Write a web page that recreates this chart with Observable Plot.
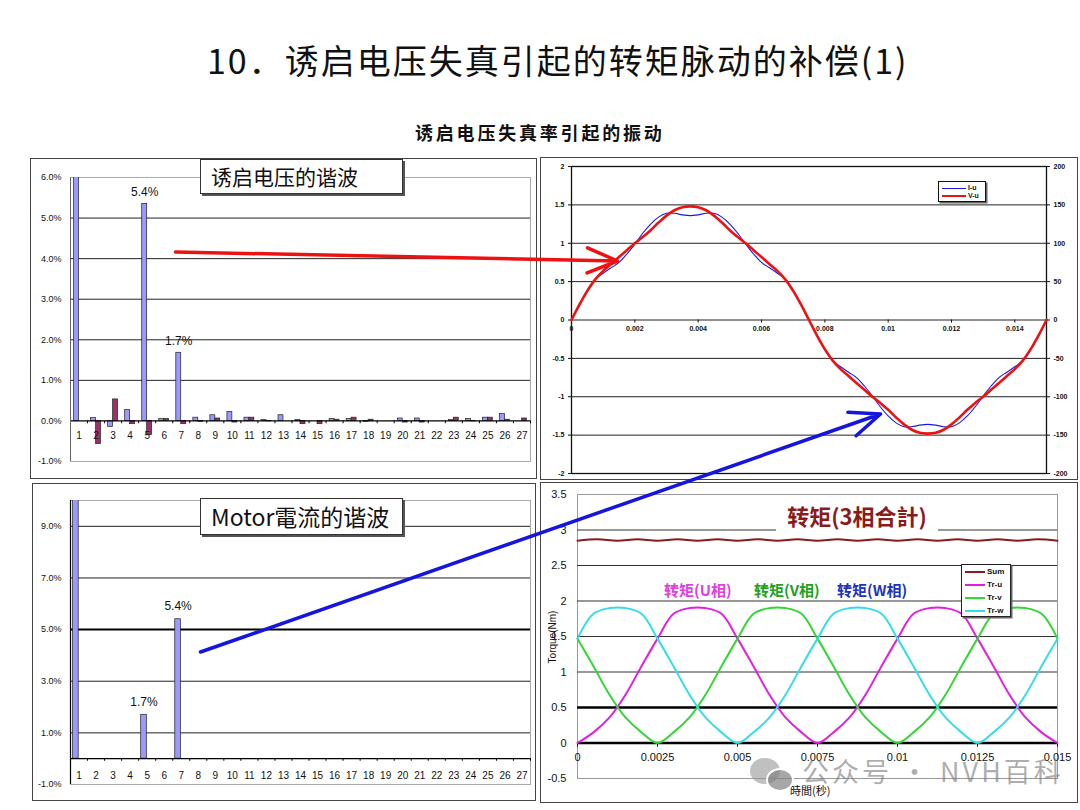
<!DOCTYPE html>
<html><head><meta charset="utf-8">
<script src="https://cdn.jsdelivr.net/npm/d3@7"></script>
<script src="https://cdn.jsdelivr.net/npm/@observablehq/plot@0.6"></script>
<style>
body{margin:0;background:#fff;}
#page{position:relative;width:1080px;height:810px;overflow:hidden;background:#fff;font-family:"Liberation Sans",Arial,sans-serif;}
.panel{position:absolute;box-sizing:border-box;border:1.5px solid #444;}
.cjk{font-family:"Noto Sans CJK SC","Noto Sans",sans-serif;}
.tbox{position:absolute;box-sizing:border-box;background:#fff;border:1px solid #333;box-shadow:2px 2px 0 #555;white-space:nowrap;}
.leg{position:absolute;box-sizing:border-box;background:#fff;border:1.5px solid #111;box-shadow:1.5px 1.5px 0 #666;}
.row{position:absolute;left:3px;height:10px;white-space:nowrap;font-size:8px;font-weight:bold;color:#111;line-height:10px;}
.sw{display:inline-block;vertical-align:middle;margin-right:2px;}
</style></head><body><div id="page"></div>
<script>
// ---------- data ----------
const harmonics = [1,2,3,4,5,6,7,8,9,10,11,12,13,14,15,16,17,18,19,20,21,22,23,24,25,26,27];
const voltHarmA = [100,0.07,-0.15,0.27,5.35,0.05,1.68,0.08,0.14,0.22,0.08,0.02,0.14,0.02,0,0.05,0.05,-0.02,0,0.06,0.06,0,0.02,0.05,0.08,0.17,0];
const voltHarmB = [0,-0.57,0.53,-0.08,-0.35,0.05,-0.08,-0.02,0.06,-0.04,0.08,-0.01,0,-0.08,-0.08,0.03,0.08,0.03,0,-0.04,-0.04,0,0.08,-0.01,0.08,0.03,0.06];
const voltLabels = [{h:5, v:5.35, text:"5.4%"}, {h:7, v:1.68, text:"1.7%"}];
const voltTicks = [-1,0,1,2,3,4,5,6];
const voltGrid = [1,2,3,4,5];

const currHarm = [100,0,0,0,1.7,0,5.4,0,0,0,0,0,0,0,0,0,0,0,0,0,0,0,0,0,0,0,0];
const currLabels = [{h:5, v:1.7, text:"1.7%"}, {h:7, v:5.4, text:"5.4%"}];
const currTicks = [-1,1,3,5,7,9];
const currGrid = [1,3,7,9];
const currGridBold = [5];

const waveT = [0,0.00025,0.0005,0.00075,0.001,0.00125,0.0015,0.00175,0.002,0.00225,0.0025,0.00275,0.003,0.00325,0.0035,0.00375,0.004,0.00425,0.0045,0.00475,0.005,0.00525,0.0055,0.00575,0.006,0.00625,0.0065,0.00675,0.007,0.00725,0.0075,0.00775,0.008,0.00825,0.0085,0.00875,0.009,0.00925,0.0095,0.00975,0.01,0.01025,0.0105,0.01075,0.011,0.01125,0.0115,0.01175,0.012,0.01225,0.0125,0.01275,0.013,0.01325,0.0135,0.01375,0.014,0.01425,0.0145,0.01475,0.015];
const currentU = [0,0.2,0.39,0.53,0.61,0.68,0.75,0.86,0.99,1.13,1.25,1.34,1.39,1.39,1.37,1.36,1.37,1.39,1.39,1.34,1.25,1.13,0.99,0.86,0.75,0.68,0.61,0.53,0.39,0.2,0,
  -0.2,-0.39,-0.53,-0.61,-0.68,-0.75,-0.86,-0.99,-1.13,-1.25,-1.34,-1.39,-1.39,-1.37,-1.36,-1.37,-1.39,-1.39,-1.34,-1.25,-1.13,-0.99,-0.86,-0.75,-0.68,-0.61,-0.53,-0.39,-0.2,0];
const voltageU = [0,20,38,53,64,73,82,91,100,108,117,127,136,143,147,148,147,143,136,127,117,108,100,91,82,73,64,53,38,20,0,
  -20,-38,-53,-64,-73,-82,-91,-100,-108,-117,-127,-136,-143,-147,-148,-147,-143,-136,-127,-117,-108,-100,-91,-82,-73,-64,-53,-38,-20,0];
const waveTicksY = [-2,-1.5,-1,-0.5,0,0.5,1,1.5,2];
const waveGrid = [-1.5,-1,-0.5,0,0.5,1,1.5];
const waveTicksX = [0,0.002,0.004,0.006,0.008,0.01,0.012,0.014];

const torqueT = [0,0.0005,0.001,0.0015,0.002,0.0025,0.003,0.0035,0.004,0.0045,0.005,0.0055,0.006,0.0065,0.007,0.0075,0.008,0.0085,0.009,0.0095,0.01,0.0105,0.011,0.0115,0.012,0.0125,0.013,0.0135,0.014,0.0145,0.015];
const trU = [0,0.15,0.36,0.68,1.08,1.47,1.82,1.9,1.9,1.82,1.47,1.08,0.68,0.36,0.15,0,0.15,0.36,0.68,1.08,1.47,1.82,1.9,1.9,1.82,1.47,1.08,0.68,0.36,0.15,0];
const trV = [1.47,1.08,0.68,0.36,0.15,0,0.15,0.36,0.68,1.08,1.47,1.82,1.9,1.9,1.82,1.47,1.08,0.68,0.36,0.15,0,0.15,0.36,0.68,1.08,1.47,1.82,1.9,1.9,1.82,1.47];
const trW = [1.47,1.82,1.9,1.9,1.82,1.47,1.08,0.68,0.36,0.15,0,0.15,0.36,0.68,1.08,1.47,1.82,1.9,1.9,1.82,1.47,1.08,0.68,0.36,0.15,0,0.15,0.36,0.68,1.08,1.47];
const sumT = [0,0.000625,0.00125,0.001875,0.0025,0.003125,0.00375,0.004375,0.005,0.005625,0.00625,0.006875,0.0075,0.008125,0.00875,0.009375,0.01,0.010625,0.01125,0.011875,0.0125,0.013125,0.01375,0.014375,0.015];
const sumV = [2.85,2.87,2.85,2.87,2.85,2.87,2.85,2.87,2.85,2.87,2.85,2.87,2.85,2.87,2.85,2.87,2.85,2.87,2.85,2.87,2.85,2.87,2.85,2.87,2.85];
const torqueTicksY = [-0.5,0,0.5,1,1.5,2,2.5,3,3.5];
const torqueGrid = [1,1.5,2,2.5,3];
const torqueGridBold = [0,0.5];
const torqueTicksX = [0,0.0025,0.005,0.0075,0.01,0.0125,0.015];

const arrows = [
  {x1:175, y1:251.5, x2:617, y2:260.5, color:"#ee1111"},
  {x1:200, y1:651.5, x2:880, y2:413.5, color:"#1515e0"}
];

// ---------- helpers ----------
const page = document.getElementById("page");
function put(el, left, top, z){ el.style.position="absolute"; el.style.left=left+"px"; el.style.top=top+"px"; if(z) el.style.zIndex=z; page.appendChild(el); return el; }
function html(s, left, top, z){ const d=document.createElement("div"); d.innerHTML=s; const e=d.firstElementChild; return put(e,left,top,z); }
const FONT = "Liberation Sans, Arial, sans-serif";

// ---------- titles ----------
html(`<div class="cjk" style="font-size:34px;letter-spacing:2px;color:#111;white-space:nowrap;line-height:40px;">10．诱启电压失真引起的转矩脉动的补偿(1)</div>`, 207, 40);
html(`<div class="cjk" style="font-size:18px;font-weight:bold;letter-spacing:2.8px;color:#111;white-space:nowrap;line-height:22px;">诱启电压失真率引起的振动</div>`, 415, 121);

// ---------- panel 1: voltage harmonics ----------
const voltBars = harmonics.map((h,i)=>({h, a:voltHarmA[i], b:voltHarmB[i]}));
const p1 = Plot.plot({
  width:507, height:321, marginLeft:40, marginRight:7, marginTop:19, marginBottom:18,
  style:{background:"transparent", fontFamily:FONT, fontSize:"9px", color:"#111"},
  x:{domain:[0.5,27.5], axis:null},
  y:{domain:[-1,6], ticks:voltTicks, tickFormat:d=>d.toFixed(1)+"%", tickSize:0, tickPadding:9, label:null},
  marks:[
    Plot.frame({stroke:"#aaa"}),
    Plot.ruleY(voltGrid, {stroke:"#222", strokeWidth:1}),
    Plot.rect(voltBars, {x1:d=>d.h-0.29, x2:d=>d.h, y1:0, y2:"a", fill:"#9999ff", stroke:"#222", strokeWidth:0.7, clip:true}),
    Plot.rect(voltBars, {x1:d=>d.h, x2:d=>d.h+0.29, y1:0, y2:"b", fill:"#993366", stroke:"#222", strokeWidth:0.7, clip:true}),
    Plot.ruleY([0], {stroke:"#000", strokeWidth:1.2}),
    Plot.ruleX([0.5], {stroke:"#666", strokeWidth:1}),
    Plot.ruleX(harmonics, {x:d=>d+0.5, y1:0, y2:-0.07, stroke:"#000"}),
    Plot.text(harmonics, {x:d=>d, y:0, dy:15, text:d=>String(d), fontSize:10, fill:"#111"}),
    Plot.text(voltLabels, {x:d=>d.h-0.145, y:"v", dy:-12, text:"text", fontSize:12, fill:"#111"})
  ]
});
put(p1, 30, 158, 1);
html(`<div class="panel" style="width:507px;height:321px;"></div>`, 30, 158, 2);
html(`<div class="tbox cjk" style="width:203px;height:35px;font-size:21px;line-height:33px;padding-left:10px;color:#111;">诱启电压的谐波</div>`, 200, 159, 3);

// ---------- panel 3: motor current harmonics ----------
const currBars = harmonics.map((h,i)=>({h, v:currHarm[i]}));
const p3 = Plot.plot({
  width:504, height:318, marginLeft:38, marginRight:6, marginTop:17, marginBottom:17,
  style:{background:"transparent", fontFamily:FONT, fontSize:"9px", color:"#111"},
  x:{domain:[0.5,27.5], axis:null},
  y:{domain:[-1,10], ticks:currTicks, tickFormat:d=>d.toFixed(1)+"%", tickSize:0, tickPadding:9, label:null},
  marks:[
    Plot.frame({stroke:"#aaa"}),
    Plot.ruleY(currGrid, {stroke:"#222", strokeWidth:1}),
    Plot.ruleY(currGridBold, {stroke:"#000", strokeWidth:2}),
    Plot.rect(currBars, {x1:d=>d.h-0.35, x2:d=>d.h-0.02, y1:0, y2:"v", fill:"#9999ff", stroke:"#222", strokeWidth:0.7, clip:true}),
    Plot.ruleY([0], {stroke:"#000", strokeWidth:1.2}),
    Plot.ruleX([0.5], {stroke:"#000", strokeWidth:1.2}),
    Plot.ruleX(harmonics, {x:d=>d+0.5, y1:0, y2:-0.1, stroke:"#000"}),
    Plot.text(harmonics, {x:d=>d, y:0, dy:17, text:d=>String(d), fontSize:10, fill:"#111"}),
    Plot.text(currLabels, {x:d=>d.h-0.185, y:"v", dy:-13, text:"text", fontSize:12, fill:"#111"})
  ]
});
put(p3, 32, 483, 1);
html(`<div class="panel" style="width:504px;height:318px;"></div>`, 32, 483, 2);
html(`<div class="tbox cjk" style="width:203px;height:37px;font-size:23px;line-height:35px;padding-left:10px;color:#111;">Motor電流的谐波</div>`, 200, 498, 3);

// ---------- panel 2: current / voltage waveforms ----------
const wave = waveT.map((t,i)=>({t, i:currentU[i], v:voltageU[i]}));
const p2 = Plot.plot({
  width:538, height:323, marginLeft:31, marginRight:32, marginTop:9, marginBottom:7,
  style:{background:"transparent", fontFamily:FONT, fontSize:"7px", color:"#111"},
  x:{domain:[0,0.015], axis:null},
  y:{domain:[-2,2], axis:null, label:null},
  marks:[
    Plot.ruleY(waveGrid, {stroke:"#222", strokeWidth:1}),
    Plot.frame({stroke:"#111", strokeWidth:1.3}),
    Plot.axisY(waveTicksY, {anchor:"left", label:null, tickSize:3, tickPadding:4, fontWeight:"bold", tickFormat:d=>String(d)}),
    Plot.axisY(waveTicksY, {anchor:"right", label:null, tickSize:3, tickPadding:4, fontWeight:"bold", tickFormat:d=>String(Math.round(d*100))}),
    Plot.ruleX(waveTicksX, {y1:0, y2:-0.04, stroke:"#111"}),
    Plot.text(waveTicksX, {x:d=>d, y:0, dy:9, text:d=>String(d), fontSize:7, fontWeight:"bold", fill:"#111"}),
    Plot.line(wave, {x:"t", y:"i", stroke:"#1a1adf", strokeWidth:1.1, curve:"catmull-rom"}),
    Plot.line(wave, {x:"t", y:d=>d.v/100, stroke:"#ee1111", strokeWidth:2.6, curve:"catmull-rom"})
  ]
});
put(p2, 540, 157, 1);
html(`<div class="panel" style="width:538px;height:323px;"></div>`, 540, 157, 2);
html(`<div class="leg" style="width:48px;height:21px;">
  <div class="row" style="top:1px;font-size:7px;"><span class="sw" style="width:24px;height:0;border-top:1px solid #1a1adf;"></span>I-u</div>
  <div class="row" style="top:9px;font-size:7px;"><span class="sw" style="width:24px;height:0;border-top:2.5px solid #ee1111;"></span>V-u</div>
</div>`, 938, 181, 3);

// ---------- panel 4: torque ----------
const torque = torqueT.map((t,i)=>({t, u:trU[i], v:trV[i], w:trW[i]}));
const sum = sumT.map((t,i)=>({t, s:sumV[i]}));
const p4 = Plot.plot({
  width:538, height:321, marginLeft:37, marginRight:21, marginTop:12, marginBottom:25,
  style:{background:"transparent", fontFamily:FONT, fontSize:"11px", color:"#111"},
  x:{domain:[0,0.015], axis:null},
  y:{domain:[-0.5,3.5], ticks:torqueTicksY, tickFormat:d=>String(d), tickSize:0, tickPadding:11, label:null},
  marks:[
    Plot.frame({stroke:"#999"}),
    Plot.ruleY(torqueGrid, {stroke:"#333", strokeWidth:1}),
    Plot.ruleY(torqueGridBold, {stroke:"#000", strokeWidth:2.5}),
    Plot.ruleX(torqueTicksX, {y1:0, y2:-0.06, stroke:"#111"}),
    Plot.text(torqueTicksX, {x:d=>d, y:0, dy:14, text:d=>String(d), fontSize:11, fill:"#111"}),
    Plot.line(sum, {x:"t", y:"s", stroke:"#8b1a1a", strokeWidth:2, curve:"catmull-rom"}),
    Plot.line(torque, {x:"t", y:"u", stroke:"#e020e0", strokeWidth:2, curve:"catmull-rom"}),
    Plot.line(torque, {x:"t", y:"v", stroke:"#33d633", strokeWidth:2, curve:"catmull-rom"}),
    Plot.line(torque, {x:"t", y:"w", stroke:"#33dde8", strokeWidth:2, curve:"catmull-rom"})
  ]
});
put(p4, 540, 482, 1);
html(`<div class="panel" style="width:538px;height:321px;"></div>`, 540, 482, 2);
html(`<div class="cjk" style="width:162px;height:36px;background:#fff;text-align:center;font-size:22px;font-weight:bold;color:#8b1a1a;line-height:36px;white-space:nowrap;">转矩(3相合計)</div>`, 776, 497, 3);
html(`<div class="cjk" style="font-size:15px;font-weight:bold;color:#e040e0;white-space:nowrap;line-height:20px;">转矩(U相)</div>`, 664, 580, 3);
html(`<div class="cjk" style="font-size:15px;font-weight:bold;color:#22a022;white-space:nowrap;line-height:20px;">转矩(V相)</div>`, 754, 580, 3);
html(`<div class="cjk" style="font-size:15px;font-weight:bold;color:#2233bb;white-space:nowrap;line-height:20px;">转矩(W相)</div>`, 837, 580, 3);
html(`<div class="leg" style="width:50px;height:53px;border-color:#222;">
  <div class="row" style="top:2px;"><span class="sw" style="width:20px;height:0;border-top:2px solid #8b1a1a;"></span>Sum</div>
  <div class="row" style="top:15px;"><span class="sw" style="width:20px;height:0;border-top:2px solid #e020e0;"></span>Tr-u</div>
  <div class="row" style="top:28px;"><span class="sw" style="width:20px;height:0;border-top:2px solid #33d633;"></span>Tr-v</div>
  <div class="row" style="top:41px;"><span class="sw" style="width:20px;height:0;border-top:2.5px solid #33dde8;"></span>Tr-w</div>
</div>`, 961, 564, 3);
html(`<div style="transform:rotate(-90deg);transform-origin:center;font-size:10px;color:#111;white-space:nowrap;width:80px;text-align:center;line-height:12px;">Torque(Nm)</div>`, 513, 631, 3);
html(`<div class="cjk" style="font-size:11px;color:#111;white-space:nowrap;line-height:14px;">時間(秒)</div>`, 790, 783, 3);

// watermark
html(`<div style="width:30px;height:26px;border-radius:50%;background:rgba(150,150,150,0.6);"></div>`, 750, 758, 4);
html(`<div style="width:24px;height:20px;border-radius:50%;background:rgba(130,130,130,0.7);border:2px solid #fff;"></div>`, 766, 768, 4);
html(`<div class="cjk" style="font-size:27px;letter-spacing:3px;color:rgba(120,120,120,0.6);white-space:nowrap;line-height:32px;">公众号 · NVH百科</div>`, 802, 755, 4);

// ---------- arrows overlay ----------
const ov = Plot.plot({
  width:1080, height:810, margin:0,
  style:{background:"transparent"},
  x:{domain:[0,1080], range:[0,1080], axis:null},
  y:{domain:[0,810], range:[0,810], axis:null},
  marks:[
    Plot.arrow(arrows, {x1:"x1", y1:"y1", x2:"x2", y2:"y2", stroke:"color", strokeWidth:3.5, headLength:14, headAngle:45})
  ]
});
ov.style.pointerEvents="none";
put(ov, 0, 0, 5);
</script></body></html>
